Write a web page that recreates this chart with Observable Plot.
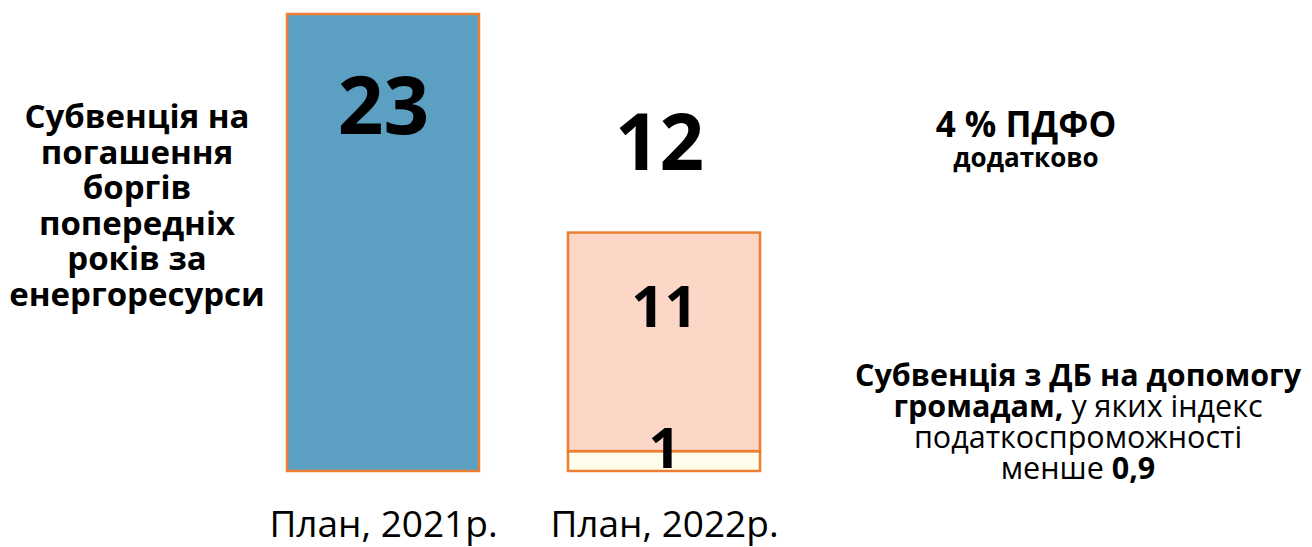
<!DOCTYPE html>
<html>
<head>
<meta charset="utf-8">
<script src="https://cdn.jsdelivr.net/npm/d3@7"></script>
<script src="https://cdn.jsdelivr.net/npm/@observablehq/plot@0.6"></script>
<style>
  html, body { margin: 0; padding: 0; background: #fff; }
  #wrap { position: relative; width: 1312px; height: 547px; overflow: hidden; font-family: "Open Sans", sans-serif; color: #000; }
  #chart { position: absolute; left: 0; top: 0; }
  .note { position: absolute; text-align: center; white-space: nowrap; }
  .note div { height: var(--lh); line-height: var(--lh); }
  #left { left: 0; width: 274px; top: 98px; font-weight: 700; font-size: 33px; --lh: 35.5px; }
  #rtop { left: 876px; width: 300px; top: 104px; }
  #rtop .a { font-weight: 700; font-size: 35px; --lh: 40px; }
  #rtop .b { font-weight: 700; font-size: 26px; --lh: 26px; }
  #rbot { left: 828px; width: 500px; top: 359px; font-size: 30.5px; --lh: 31px; }
  #rbot b { font-weight: 700; display: inline-block; height: 31px; line-height: 31px; vertical-align: top; }
  g[aria-label="x-axis tick label"] text { font-size: 37px; fill: #000; }
</style>
</head>
<body>
<div id="wrap">
  <div id="chart"></div>
  <div class="note" id="left"><div>Субвенція на</div><div>погашення</div><div>боргів</div><div>попередніх</div><div>років за</div><div>енергоресурси</div></div>
  <div class="note" id="rtop"><div class="a">4 % ПДФО</div><div class="b">додатково</div></div>
  <div class="note" id="rbot"><div><b>Субвенція з ДБ на допомогу</b></div><div><b>громадам,</b> у яких індекс</div><div>податкоспроможності</div><div>менше <b>0,9</b></div></div>
</div>
<script>
// Data
const years = ["План, 2021р.", "План, 2022р."];
const segYear = ["План, 2021р.", "План, 2022р.", "План, 2022р."];
const segPart = ["Субвенція на погашення боргів", "Субвенція з ДБ", "4 % ПДФО"];
const segValue = [23, 1, 11];
const partColors = ["#5BA0C2", "#FEFDEC", "#FCD6C6"];

const data = segYear.map((year, i) => ({year, part: segPart[i], value: segValue[i]}));
// cumulative base for each segment within its year (stack order = segPart order)
const base = {};
data.forEach(d => { d.y1 = base[d.year] || 0; d.y2 = d.y1 + d.value; d.mid = (d.y1 + d.y2) / 2; base[d.year] = d.y2; });
const totals = years.map(year => ({year, total: d3.sum(data.filter(d => d.year === year), d => d.value)}));

const chart = Plot.plot({
  width: 1312,
  height: 547,
  marginTop: 14,
  marginBottom: 76,
  marginLeft: 197,
  marginRight: 462,
  style: {fontFamily: "Open Sans, sans-serif", color: "#000", background: "transparent"},
  x: {domain: years, padding: 0.318, label: null, tickSize: 0, tickPadding: 39},
  y: {domain: [0, 23], axis: null},
  color: {domain: segPart, range: partColors},
  marks: [
    Plot.barY(data, {x: "year", y1: "y1", y2: "y2", fill: "part", stroke: "#ED7D31", strokeWidth: 2.5}),
    Plot.text(data.filter(d => d.part === segPart[0]), {x: "year", y: "y2", text: d => String(d.value), dy: 94, fontSize: 80, fontWeight: 700, fill: "#000"}),
    Plot.text(totals.filter(d => d.year === years[1]), {x: "year", y: "total", text: d => String(d.total), dy: -88, dx: -5, fontSize: 78, fontWeight: 700, fill: "#000"}),
    Plot.text(data.filter(d => d.part === segPart[2]), {x: "year", y: "mid", text: d => String(d.value), dy: -34, fontSize: 58, fontWeight: 700, fill: "#000"}),
    Plot.text(data.filter(d => d.part === segPart[1]), {x: "year", y: "mid", text: d => String(d.value), dy: -11, fontSize: 56, fontWeight: 700, fill: "#000"})
  ]
});
document.getElementById("chart").appendChild(chart);
</script>
</body>
</html>
